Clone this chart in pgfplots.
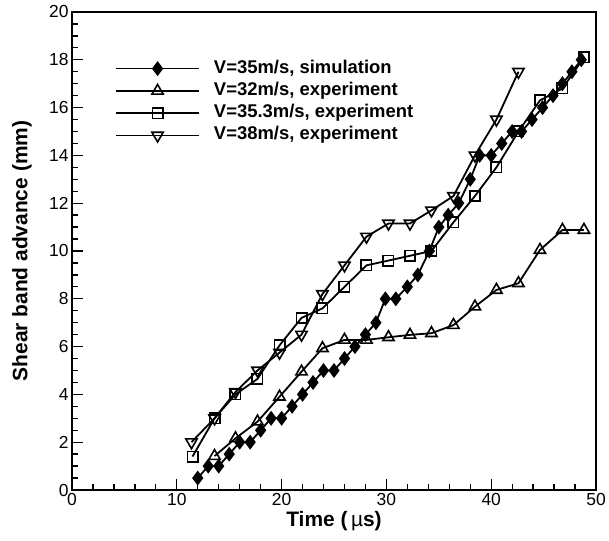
\documentclass[border=0pt]{standalone}
\usepackage{pgfplots}
\pgfplotsset{compat=1.18}
\usepackage{fontspec}
\setmainfont{Liberation Sans}
\begin{document}
\begin{tikzpicture}
\useasboundingbox (0,0) rectangle (609bp,541bp);
\begin{axis}[
  at={(72bp,51bp)}, anchor=south west,
  scale only axis, width=524bp, height=478bp,
  xmin=0, xmax=50, ymin=0, ymax=20,
  xtick={0,10,...,50}, ytick={0,2,...,20},
  minor x tick num=4, minor y tick num=3,
  xtick pos=bottom, ytick pos=left,
  tick align=inside,
  major tick length=11bp, minor tick length=6bp,
  every tick/.style={black, line width=1.3bp},
  axis line style={line width=2.5bp},
  tick label style={font=\fontsize{17.5}{17.5}\selectfont},
  /pgf/number format/assume math mode=true,
  xlabel={\bfseries Time (\,{\mdseries µ}s)},
  ylabel={\bfseries Shear band advance (mm)},
  label style={font=\fontsize{21}{21}\selectfont},
  xlabel style={at={(axis description cs:0.5,0)}, anchor=center, yshift=-31bp},
  ylabel style={at={([xshift=-50bp]axis description cs:0,0.5)}, anchor=center},
  legend style={draw=none, fill=none, inner sep=0pt, at={(0.082,0.904)}, anchor=north west,
    font=\bfseries\fontsize{18.5}{18.5}\selectfont, row sep=1.3bp, column sep=12bp,
    nodes={inner sep=2bp, text height=13bp, text depth=4bp}},
  legend cell align=left,
  legend image code/.code={\draw[mark repeat=2,mark phase=2,#1] plot coordinates {(0bp,0bp)(41.5bp,0bp)(83bp,0bp)};},
]
\addplot[black, line width=1.8bp, mark=diamond*, mark size=6bp, mark options={solid, fill=black}] coordinates {
(12,0.5)(13,1.0)(14,1.0)(15,1.5)(16,2.0)(17,2.0)(18,2.5)(19,3.0)(20,3.0)(21,3.5)
(22,4.0)(23,4.5)(24,5.0)(25,5.0)(26,5.5)(27,6.0)(28,6.5)(29,7.0)(29.9,8.0)(30.9,8.0)
(32,8.5)(33,9.0)(34.1,10.0)(35,11.0)(35.9,11.5)(36.9,12.0)(38,13.0)(38.9,14.0)(40,14.0)(41,14.5)
(42,15.0)(42.9,15.0)(43.9,15.5)(44.9,16.0)(45.9,16.5)(46.8,17.0)(47.7,17.5)(48.6,18.0)};
\addlegendentry{V=35m/s, simulation}
\addplot[black, line width=1.8bp, mark=triangle, mark size=6.5bp, mark options={solid, fill=white, line width=1.6bp}] coordinates {
(13.6,1.42)(15.6,2.16)(17.7,2.86)(19.8,3.9)(21.9,4.95)(23.9,5.93)(26.0,6.28)(28.1,6.28)(30.2,6.39)
(32.25,6.49)(34.3,6.56)(36.4,6.9)(38.45,7.67)(40.5,8.37)(42.6,8.65)(44.65,10.04)(46.8,10.88)(48.85,10.88)};
\addlegendentry{V=32m/s, experiment}
\addplot[black, line width=1.8bp, mark=square, mark size=5.2bp, mark options={solid, fill=white, line width=1.6bp}] coordinates {
(11.5,1.4)(13.6,3.0)(15.6,4.0)(17.7,4.65)(19.8,6.05)(21.9,7.2)(23.9,7.6)(26.0,8.5)(28.1,9.4)(30.2,9.6)
(32.25,9.8)(34.3,10.0)(36.4,11.2)(38.45,12.3)(40.5,13.5)(42.6,15.0)(44.65,16.3)(46.8,16.8)(48.85,18.1)};
\addlegendentry{V=35.3m/s, experiment}
\addplot[black, line width=1.8bp, mark=triangle, mark size=6.5bp, mark options={solid, fill=white, rotate=180, line width=1.6bp}] coordinates {
(11.4,2.0)(13.6,3.0)(15.6,4.1)(17.7,5.0)(19.8,5.75)(21.9,6.5)(23.9,8.2)(26.0,9.4)(28.1,10.6)(30.2,11.15)
(32.25,11.15)(34.3,11.7)(36.4,12.3)(38.45,14.0)(40.5,15.5)(42.6,17.5)};
\addlegendentry{V=38m/s, experiment}
\end{axis}
\end{tikzpicture}
\end{document}
